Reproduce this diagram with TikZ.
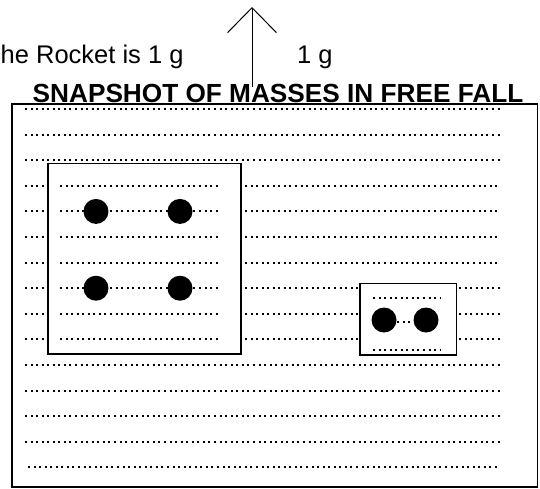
\documentclass[tikz,border=0pt]{standalone}
\usepackage{fontspec}
\setmainfont{Liberation Sans}
\usetikzlibrary{arrows.meta}

\begin{document}
\begin{tikzpicture}[
  x=1pt, y=-1pt,
  frame/.style={draw, line width=1.5pt},
  dotrow/.style={line width=2pt, dash pattern=on 2pt off 3.56pt},
  mass/.style={circle, fill=black, inner sep=0pt, minimum size=25pt},
  lbl/.style={inner sep=0pt, font=\fontsize{25.5}{25.5}\selectfont},
  ttl/.style={inner sep=0pt, font=\bfseries\fontsize{26.2}{26.2}\selectfont},
  >={Straight Barb[length=25pt, width=49pt]},
]
\useasboundingbox (0,0) rectangle (540,488);

% heading and the rocket's acceleration
\node[lbl, anchor=base west] (accel) at (0.5,63) {he Rocket is 1 g};
\node[lbl, anchor=base west] (gval) at (297,63) {1 g};
\node[ttl, anchor=base] (title) at (278,102.5) {SNAPSHOT OF MASSES IN FREE FALL};
\coordinate (up0) at (252,87);
\coordinate (up1) at (252,7);
\draw[->, line width=1pt] (up0) -- (up1);

% dotted ruling
\foreach \k in {0,1,2,10,11,12,13}{
  \pgfmathsetmacro\yy{109+25.6*\k}
  \draw[dotrow] (25,\yy) -- (500,\yy);
}
\draw[dotrow] (28,467.4) -- (497,467.4);
\foreach \k in {3,...,9}{
  \pgfmathsetmacro\yy{109+25.6*\k}
  \draw[dotrow] (25,\yy) -- (45,\yy);
  \draw[dotrow] (60,\yy) -- (220,\yy);
}
\foreach \k in {3,...,6}{
  \pgfmathsetmacro\yy{109+25.6*\k}
  \draw[dotrow] (245,\yy) -- (500,\yy);
}
\foreach \k in {7,8,9}{
  \pgfmathsetmacro\yy{109+25.6*\k}
  \draw[dotrow] (245,\yy) -- (358,\yy);
  \draw[dotrow] (459,\yy) -- (500,\yy);
}
\draw[dotrow] (373,298) -- (440,298);
\draw[dotrow] (397,322) -- (414,322);
\draw[dotrow] (373,350) -- (440,350);

% frames
\draw[frame] (12,104) rectangle (537.5,487);
\draw[frame] (48,163.5) rectangle (241,354);
\draw[frame] (360,283.5) rectangle (456.5,355);

% masses
\node[mass] (m1) at (96,211.4) {};
\node[mass] (m2) at (180,211.4) {};
\node[mass] (m3) at (96,288.2) {};
\node[mass] (m4) at (180,288.2) {};
\node[mass] (m5) at (384,320) {};
\node[mass] (m6) at (426,320) {};
\end{tikzpicture}
\end{document}
